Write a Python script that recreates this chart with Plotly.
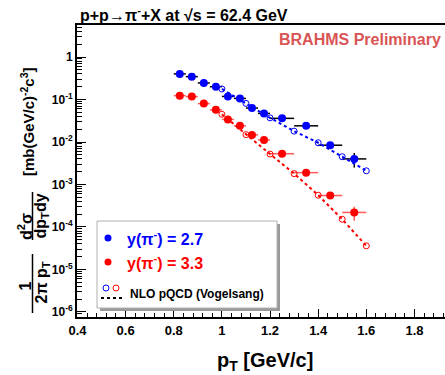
import plotly.graph_objects as go

# ---------------- data ----------------
pt_data = [0.825, 0.875, 0.925, 0.975, 1.025, 1.075, 1.125, 1.175, 1.25, 1.35, 1.45, 1.55]
pt_err = [0.025, 0.025, 0.025, 0.025, 0.025, 0.025, 0.025, 0.025, 0.05, 0.05, 0.05, 0.05]
y27 = [0.40, 0.345, 0.245, 0.20, 0.118, 0.106, 0.063, 0.047, 0.036, 0.024, 0.0084, 0.0040]
y27_err = [0, 0, 0, 0, 0, 0, 0, 0, 0, 0, 0, 0.0015]
y33 = [0.123, 0.117, 0.080, 0.057, 0.034, 0.024, 0.0147, 0.0112, 0.0053, 0.0019, 0.00055, 0.00022]
y33_err = [0, 0, 0, 0, 0, 0, 0, 0, 0, 0, 0, 0.00008]
nlo_pt = [1.0, 1.1, 1.2, 1.3, 1.4, 1.5, 1.6]
nlo27 = [0.177, 0.081, 0.037, 0.018, 0.0096, 0.0045, 0.0021]
nlo33 = [0.045, 0.0149, 0.0052, 0.0018, 0.00056, 0.000152, 0.000036]

x_tickvals = [0.4, 0.6, 0.8, 1.0, 1.2, 1.4, 1.6, 1.8]
x_ticktext = ["0.4", "0.6", "0.8", "1", "1.2", "1.4", "1.6", "1.8"]
y_tickvals = [1e-6, 1e-5, 1e-4, 1e-3, 1e-2, 1e-1, 1]
y_ticktext = ["10<sup>-6</sup>", "10<sup>-5</sup>", "10<sup>-4</sup>", "10<sup>-3</sup>",
              "10<sup>-2</sup>", "10<sup>-1</sup>", "1"]

FONT = "Liberation Sans, Arial, Helvetica, sans-serif"
W, H = 445, 375
L, R, T, B = 77, 445, 25, 317


def PX(px):
    return (px - L) / (R - L)


def PY(py):
    return (B - py) / (B - T)


fig = go.Figure()

fig.add_trace(go.Scatter(
    x=pt_data, y=y27, mode="markers",
    marker=dict(color="#0000ff", size=8, line=dict(width=0)),
    error_x=dict(type="data", array=pt_err, color="black", thickness=1.5, width=0),
    error_y=dict(type="data", array=y27_err, color="black", thickness=1.5, width=0),
    showlegend=False))
fig.add_trace(go.Scatter(
    x=pt_data, y=y33, mode="markers",
    marker=dict(color="#ff0000", size=8, line=dict(width=0)),
    error_x=dict(type="data", array=pt_err, color="rgba(255,60,60,0.85)", thickness=1.5, width=0),
    error_y=dict(type="data", array=y33_err, color="rgba(255,60,60,0.85)", thickness=1.5, width=0),
    showlegend=False))
fig.add_trace(go.Scatter(
    x=nlo_pt, y=nlo27, mode="lines+markers",
    line=dict(color="#0000ff", width=2, dash="dot"),
    marker=dict(symbol="circle-open", color="#0000ff", size=6, line=dict(width=1)),
    showlegend=False))
fig.add_trace(go.Scatter(
    x=nlo_pt, y=nlo33, mode="lines+markers",
    line=dict(color="#ff0000", width=2, dash="dot"),
    marker=dict(symbol="circle-open", color="#ff0000", size=6, line=dict(width=1)),
    showlegend=False))

# minor tick positions
y_minor = [k * 10.0 ** d for d in range(-7, 1) for k in range(2, 10)]

fig.update_layout(
    width=W, height=H,
    margin=dict(l=L, r=W - R, t=T, b=H - B, pad=0),
    paper_bgcolor="white", plot_bgcolor="white",
    font=dict(family=FONT, size=13, color="black"),
    xaxis=dict(range=[0.398, 1.927], showgrid=False, zeroline=False,
               showline=True, linecolor="black", linewidth=2, mirror=True,
               ticks="inside", ticklen=8, tickwidth=1, tickcolor="black",
               tickmode="array", tickvals=x_tickvals, ticktext=x_ticktext,
               tickfont=dict(family=FONT, size=13, color="black", weight="bold"),
               minor=dict(ticks="inside", ticklen=4, tickcolor="black", dtick=0.04, tick0=0.4, showgrid=False)),
    yaxis=dict(type="log", range=[-6.118, 0.753], showgrid=False, zeroline=False,
               showline=True, linecolor="black", linewidth=2, mirror=False,
               ticks="inside", ticklen=9, tickwidth=1, tickcolor="black",
               tickmode="array", tickvals=y_tickvals, ticktext=y_ticktext,
               tickfont=dict(family=FONT, size=12, color="black", weight="bold"),
               minor=dict(ticks="inside", ticklen=5, tickcolor="black", tickmode="array",
                          tickvals=y_minor, showgrid=False)),
)

shapes = []
# legend box with shadow
shapes.append(dict(type="rect", xref="paper", yref="paper", x0=PX(100), x1=PX(280), y0=PY(311), y1=PY(224),
                   fillcolor="#9a9a9a", line=dict(width=0)))
shapes.append(dict(type="rect", xref="paper", yref="paper", x0=PX(97), x1=PX(277), y0=PY(308), y1=PY(221),
                   fillcolor="white", line=dict(color="#b0b0b0", width=1)))
# legend symbols
for cy, col in [(238, "#0000ff"), (262, "#ff0000")]:
    shapes.append(dict(type="circle", xref="paper", yref="paper", x0=PX(104.5), x1=PX(111.5),
                       y0=PY(cy + 3.5), y1=PY(cy - 3.5), fillcolor=col, line=dict(width=0)))
for cx, col in [(106, "#0000ff"), (116, "#ff0000")]:
    shapes.append(dict(type="circle", xref="paper", yref="paper", x0=PX(cx - 3), x1=PX(cx + 3),
                       y0=PY(291), y1=PY(285), fillcolor="rgba(0,0,0,0)", line=dict(color=col, width=1)))
shapes.append(dict(type="line", xref="paper", yref="paper", x0=PX(101), x1=PX(123), y0=PY(298), y1=PY(298),
                   line=dict(color="black", width=2, dash="dot")))
# fraction bars of the y-axis title
shapes.append(dict(type="line", xref="paper", yref="paper", x0=PX(32.5), x1=PX(32.5), y0=PY(313), y1=PY(254),
                   line=dict(color="black", width=1.5)))
shapes.append(dict(type="line", xref="paper", yref="paper", x0=PX(32.5), x1=PX(32.5), y0=PY(240), y1=PY(192),
                   line=dict(color="black", width=1.5)))
fig.update_layout(shapes=shapes)


def ann(px, py, text, size, color="black", xanchor="center", yanchor="middle", angle=0):
    fig.add_annotation(x=PX(px), y=PY(py), xref="paper", yref="paper", text=text, showarrow=False,
                       xanchor=xanchor, yanchor=yanchor, textangle=angle,
                       font=dict(family=FONT, size=size, color=color, weight="bold"))


ann(78, 14, "p+p→π<sup>-</sup>+X at √s = 62.4 GeV", 16, xanchor="left")
ann(443, 40, "BRAHMS Preliminary", 16, color="#d95555", xanchor="right")
ann(125, 238, "y(π<sup>-</sup>) = 2.7", 16, color="#0000ff", xanchor="left")
ann(125, 262, "y(π<sup>-</sup>) = 3.3", 16, color="#ff0000", xanchor="left")
ann(128, 294, "NLO pQCD (Vogelsang)", 12, xanchor="left")
ann(265, 361, "p<sub>T</sub> [GeV/c]", 20)
# y-axis title (rotated)
ann(24.5, 286, "1", 16, angle=-90)
ann(41.5, 283, "2π p<sub>T</sub>", 16, angle=-90)
ann(25, 227, "d<sup>2</sup>σ", 16, angle=-90)
ann(40.5, 216, "dp<sub>T</sub>dy", 16, angle=-90)
ann(27, 122, "[mb(GeV/c)<sup>-2</sup>c<sup>3</sup>]", 15, angle=-90)

fig.write_html("out.html",
               config={"displayModeBar": False},
               post_script="document.body.style.margin='0px';document.body.style.overflow='hidden';"
                           "document.documentElement.style.overflow='hidden';")
